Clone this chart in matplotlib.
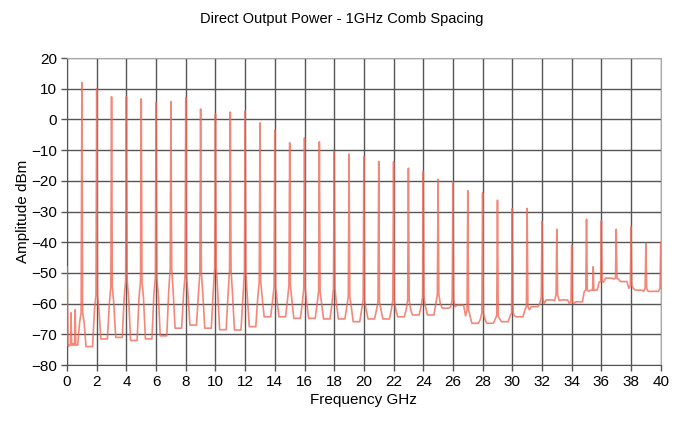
"""Direct Output Power - 1GHz comb spacing, spectrum trace."""

import matplotlib
matplotlib.use('Agg')
import matplotlib.pyplot as plt
import numpy as np

plt.rcParams.update({
    'font.family': ['Liberation Sans', 'DejaVu Sans'],
    'font.size': 11,
})

# ── data ─────────────────────────────────────────────────────────────────────
comb_ghz = list(range(1, 41))
comb_peak_dbm = [12, 10, 7.4, 7.4, 6.7, 5.5, 5.8, 7.2, 3.4, 1.8,
                 2.4, 2.8, -1.1, -3.5, -7.6, -6, -7.3, -10.5, -11.3, -12.1,
                 -13.7, -13.8, -15.9, -17, -19.5, -20.3, -23.2, -23.9, -26.3, -29,
                 -29, -33.3, -35.8, -41, -32.5, -33, -35.8, -35, -40.3, -40]
pedestal_dbm = [-63, -57, -54.5, -52.3, -52.8, -51.7, -48.5, -51, -50, -48,
                -49, -50, -52.8, -54.5, -54, -55, -56, -55, -57.7, -58.8,
                -59.4, -58.8, -58.8, -58, -57, -58.8, -62, -63, -64, -63,
                -61, -58, -57, -59.4, -55.6, -52.8, -51.7, -54, -55, -55]
# level of the skirt shoulder either side of each comb line
shoulder_dbm = [-66, -62, -60, -58, -58, -57, -56, -57, -57, -56,
                -57, -58, -58, -59, -59, -60, -60, -60, -61, -62,
                -62, -62, -62, -61, -60, -61, -64, -65, -65, -64,
                -62, -60, -59, -60, -56, -53, -52, -55, -56, -56]
# noise floor half-way between comb lines (0.5, 1.5, ... 39.5 GHz)
floor_dbm = [-73.5, -74, -71.5, -71, -72, -71.5, -70.5, -68, -67, -68,
             -68.5, -68.6, -67.5, -64.3, -64.3, -64.8, -64.8, -65, -65, -65.9,
             -65, -65, -64.3, -63.7, -63.7, -61.5, -60.5, -66.4, -66.4, -65.9,
             -64.3, -61, -58.8, -58.8, -59.4, -55.6, -51.7, -52.8, -55.6, -56]
start_dbm = -48
spur_ghz = [0.1, 0.27, 0.4, 0.55, 35.45]
spur_dbm = [-74, -63, -73, -62, -48]

# ── build trace ──────────────────────────────────────────────────────────────
fx, fy = [0.0], [start_dbm]
for k, pk, ped, sh in zip(comb_ghz, comb_peak_dbm, pedestal_dbm, shoulder_dbm):
    before = floor_dbm[k - 1]
    fx += [k - 0.5, k - 0.28, k - 0.15, k - 0.05, k, k + 0.05, k + 0.15]
    fy += [before, before, sh, ped, pk, ped, sh]
    if k < 40:
        fx.append(k + 0.28)
        fy.append(floor_dbm[k])
for s, v in zip(spur_ghz, spur_dbm):
    fx += [s - 0.04, s, s + 0.04]
    fy += [floor_dbm[int(s)], v, floor_dbm[int(s)]]
order = np.argsort(fx, kind='stable')
fx = np.asarray(fx)[order]
fy = np.asarray(fy)[order]

fig = plt.figure(figsize=(6.84, 4.21), dpi=100)
ax = fig.add_axes([0.098, 0.133, 0.868, 0.729])

ax.plot(fx, fy, color='#f06a58', lw=1.2, alpha=0.8, zorder=3)

ax.set_xlim(0, 40)
ax.set_ylim(-80, 20)
ax.set_xticks(np.arange(0, 41, 2))
ax.set_yticks(np.arange(-80, 21, 10))
ax.grid(True, color='#555555', lw=1.0, zorder=1)
ax.set_axisbelow(True)
ax.tick_params(direction='out', length=4, width=1, color='#555555',
               labelsize=11, pad=3)
for side in ['top', 'right']:
    ax.spines[side].set_color('#aaaaaa')
for side in ['left', 'bottom']:
    ax.spines[side].set_color('#555555')

ax.set_xlabel('Frequency GHz', fontsize=11, labelpad=3)
ax.set_ylabel('Amplitude dBm', fontsize=11, labelpad=1)
fig.text(0.5, 0.955, 'Direct Output Power - 1GHz Comb Spacing',
         ha='center', va='center', fontsize=10.5)

fig.savefig('out.png', dpi=100)
plt.close(fig)
